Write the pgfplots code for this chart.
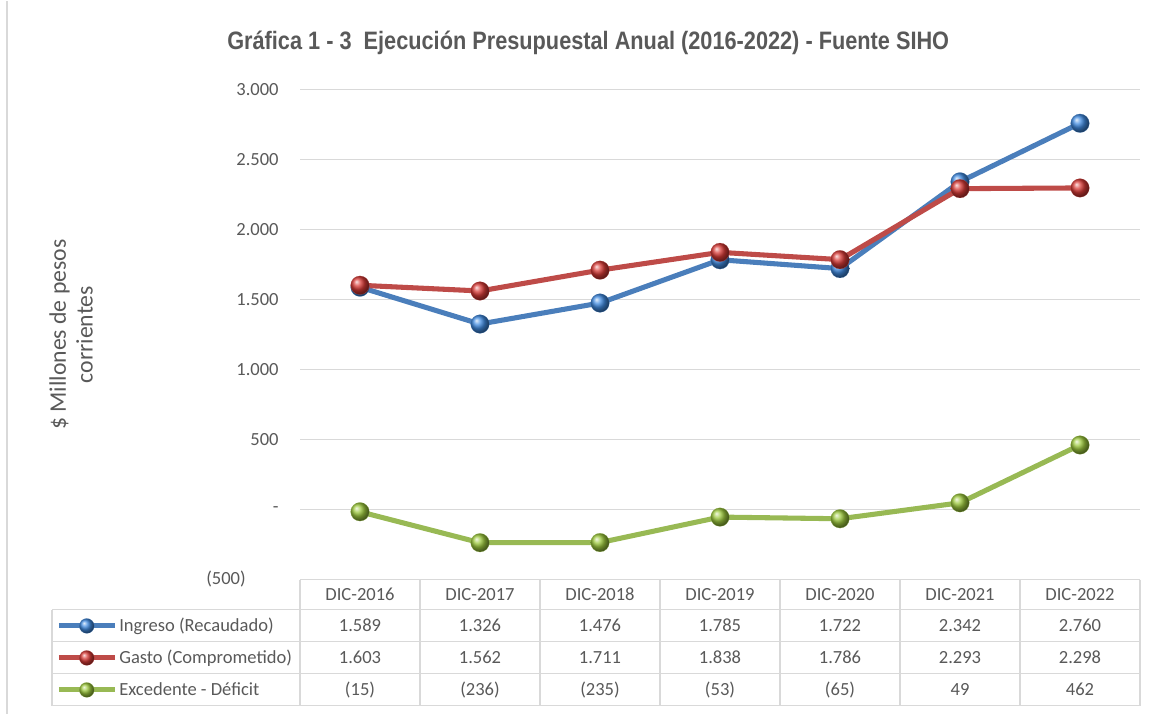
\documentclass[border=0pt]{standalone}
\usepackage{fontspec}
\setmainfont{Carlito}
\newfontfamily\titlefont[FakeStretch=0.862]{Liberation Sans}
\usepackage{pgfplots}
\pgfplotsset{compat=1.18}
\usetikzlibrary{plotmarks}
\definecolor{txt}{HTML}{595959}
\definecolor{gridc}{HTML}{D9D9D9}
\definecolor{cblue}{HTML}{4A7EBB}
\definecolor{cred}{HTML}{BE4B48}
\definecolor{cgreen}{HTML}{98B954}
\definecolor{bblue}{HTML}{3F8AE0}
\definecolor{bred}{HTML}{D83A36}
\definecolor{bgreen}{HTML}{9CC83C}
\newcommand\tabfont{\fontsize{13.9}{16}\selectfont}
\begin{document}
\begin{tikzpicture}[x=0.75pt,y=0.75pt]
\path (0,0) rectangle (1157,713);
\draw[gridc, line width=1pt] (7,0) -- (7,713);
\begin{axis}[
  at={(225pt,100.5pt)}, anchor=south west, scale only axis,
  width=630pt, height=367.5pt,
  xmin=-0.5, xmax=6.5, ymin=-500, ymax=3000,
  clip=false,
  xtick=\empty,
  ytick={0,500,1000,1500,2000,2500,3000},
  yticklabels={-,500,1.000,1.500,2.000,2.500,3.000},
  yticklabel style={font=\tabfont, text=txt, xshift=-12.5pt},
  ymajorgrids, major grid style={gridc, line width=0.9pt},
  axis line style={draw=none}, tick style={draw=none},
  ylabel={\$ Millones de pesos\\corrientes},
  every axis y label/.style={at={(axis description cs:-0.2726,0.5)}, rotate=90, anchor=center, align=center, font=\fontsize{17.8}{20}\selectfont, text=txt},
  legend style={at={(axis description cs:-0.2905,-0.0612)}, anchor=north west, draw=none, fill=none, inner sep=0pt, row sep=0pt, font=\tabfont, text=txt,
    nodes={minimum height=24pt, inner ysep=0pt, inner xsep=1.5pt}},
  legend cell align=left,
  legend image code/.code={\draw[mark repeat=2,mark phase=2,#1,mark size=5.6pt] plot coordinates {(0pt,0pt) (21pt,0pt) (42pt,0pt)};},
]
\addplot[cblue, line width=3.8pt, mark=ball, mark size=7pt, mark options={ball color=bblue, line width=0.1pt}] coordinates {
(0,1589) (1,1326) (2,1476) (3,1785) (4,1722) (5,2342) (6,2760)};
\addlegendentry{Ingreso (Recaudado)}
\addplot[cred, line width=3.8pt, mark=ball, mark size=7pt, mark options={ball color=bred, line width=0.1pt}] coordinates {
(0,1603) (1,1562) (2,1711) (3,1838) (4,1786) (5,2293) (6,2298)};
\addlegendentry{Gasto (Comprometido)}
\addplot[cgreen, line width=3.8pt, mark=ball, mark size=7pt, mark options={ball color=bgreen, line width=0.1pt}] coordinates {
(0,-15) (1,-236) (2,-235) (3,-53) (4,-65) (5,49) (6,462)};
\addlegendentry{Excedente - Déficit}
\end{axis}
% y tick label for -500
\node[anchor=east, font=\tabfont, text=txt, inner sep=0pt] at (246,135) {(500)};
% data table grid
\draw[gridc, line width=1.2pt] (300,134) -- (1140,134);
\foreach \yy in {104,72,40,8} \draw[gridc, line width=1.2pt] (52,\yy) -- (1140,\yy);
\draw[gridc, line width=1.2pt] (52,104) -- (52,8);
\foreach \xx in {300,420,540,660,780,900,1020,1140} \draw[gridc, line width=1.2pt] (\xx,134) -- (\xx,8);
% header
\foreach \lab [count=\i from 0] in {DIC-2016,DIC-2017,DIC-2018,DIC-2019,DIC-2020,DIC-2021,DIC-2022}
  \node[font=\tabfont, text=txt] at (360+120*\i,119) {\lab};
\foreach \v [count=\i from 0] in {1.589,1.326,1.476,1.785,1.722,2.342,2.760}
  \node[font=\tabfont, text=txt] at (360+120*\i,88) {\v};
\foreach \v [count=\i from 0] in {1.603,1.562,1.711,1.838,1.786,2.293,2.298}
  \node[font=\tabfont, text=txt] at (360+120*\i,56) {\v};
\foreach \v [count=\i from 0] in {(15),(236),(235),(53),(65),49,462}
  \node[font=\tabfont, text=txt] at (360+120*\i,24) {\v};
% title
\node[anchor=west, text=txt, font=\titlefont\bfseries\fontsize{18.9}{22}\selectfont, inner sep=0pt] at (227,671) {Gráfica 1 - 3\ \ Ejecución Presupuestal Anual (2016-2022) - Fuente SIHO};
\end{tikzpicture}
\end{document}
